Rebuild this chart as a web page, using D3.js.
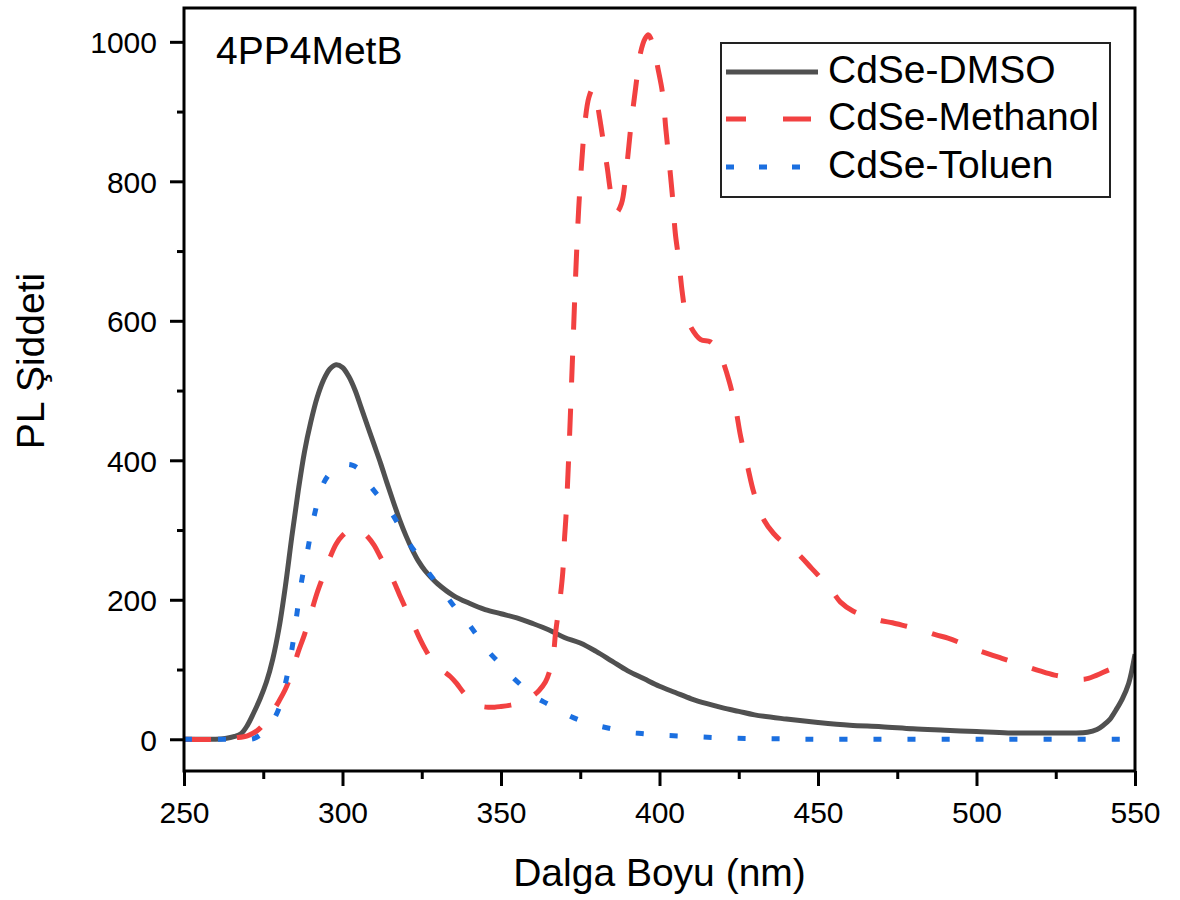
<!DOCTYPE html>
<html>
<head>
<meta charset="utf-8">
<script src="https://cdn.jsdelivr.net/npm/d3@7"></script>
<style>
  body { margin: 0; background: #fff; }
  text { font-family: "Liberation Sans", Arial, sans-serif; fill: #000; }
</style>
</head>
<body>
<script>
// wavelength (nm) / intensity pairs
const dmsoX = [250,255,260,263,266,268,270,272,274,276,278,280,282,284,286,288,290,292,294,296,298,300,302,304,306,308,310,312,314,316,318,320,322,324,326,328,330,335,340,345,350,355,360,365,370,375,380,385,390,395,400,405,410,415,420,425,430,440,450,460,470,480,490,500,510,520,530,535,538,540,542,544,546,548,550]
const dmsoY = [0,0,0,1,4,8,20,38,58,82,115,160,220,290,355,412,455,490,515,531,537,533,520,500,474,448,422,396,368,341,315,292,272,255,242,232,223,206,195,186,180,174,166,157,146,138,126,112,98,87,76,67,58,51,45,40,35,29,24,20,18,15,13,11,9,9,9,10,14,20,28,42,58,80,122]

const methX = [250,262,266,270,273,275,278,280,282,284,286,288,290,292,294,296,298,300,302,304,306,308,310,312,314,316,318,320,322,324,326,328,330,332,334,336,338,340,342,344,346,348,350,353,356,358,360,362,364,365.5,366.5,367.2,368.7,369.5,370,370.5,371.5,372.5,373.5,374.5,375.5,376.5,377.7,379,380.3,381.5,382.5,383.5,385,386.5,388,389.5,391,392.5,394,395.5,396.5,398,399.5,401,402,403,404,405,406,407.2,408.2,410,413,416,418,419.3,422,424,425.6,427.7,429.8,433,436,438.8,442,445,448,452,455,457,461,465.6,470,473.5,478,482.5,487,491,495,499,504,508,512,516,520,524.6,530,534,538,542,546,550]
const methY = [0,0,2,5,12,21,40,55,72,95,125,150,180,210,235,260,280,292,299,301,298,290,278,261,245,228,207,187,168,148,130,115,105,97,90,80,68,58,50,47,46,46,47,49,52,56,62,70,82,100,120,152,204,240,285,320,420,540,660,760,830,885,920,933,912,880,850,820,775,756,768,815,880,935,984,1005,1010,995,962,925,875,830,783,725,690,640,612,590,573,570,560,550,513,475,434,393,353,314,295,283,273,260,245,226,209,197,184,176,170,167,162,157,150,145,138,130,122,116,110,104,98,92,88,86,92,100,106,110]

const tolX = [250,260,268,270,272,274,276,278,280,282,284,285.5,287,289,291,294,297,299,301,303,305,307,309,312,315.5,318,321,324,327,330,333,336,340,343,346,350,353,357,361,365,370,375,380,385,390,395,400,410,420,430,440,450,500,550]
const tolY = [0,0,0,0,1,6,14,26,45,80,128,176,224,271,319,367,386,392,394,393,388,376,362,345,324,305,281,262,240,222,204,186,164,145,126,107,92,75,60,50,37,27,20,15,10,8,6,4,2,1,0.5,0,0,0]

const seriesNames = ["CdSe-DMSO", "CdSe-Methanol", "CdSe-Toluen"]
const seriesColors = ["#505050", "#f24141", "#1b6fe0"]
const seriesDash = [null, "27,26", "8,26"]

const xTicks = [250, 300, 350, 400, 450, 500, 550]
const xMinor = [275, 325, 375, 425, 475, 525]
const yTicks = [0, 200, 400, 600, 800, 1000]
const yMinor = [100, 300, 500, 700, 900]

const W = 1180, H = 900
const plotL = 184, plotR = 1135, plotT = 8, plotB = 771

const svg = d3.select("body").append("svg").attr("width", W).attr("height", H)

const x = d3.scaleLinear().domain([250, 550]).range([plotL, plotR])
const y = d3.scaleLinear().domain([-45.5, 1048.5]).range([plotB, plotT])

// axes
const gx = svg.append("g").attr("transform", `translate(0,${plotB})`)
  .call(d3.axisBottom(x).tickValues(xTicks).tickSize(15).tickFormat(d3.format("d")))
gx.selectAll("text").attr("y", 52).attr("dy", 0).style("font-size", "30px")
svg.append("g").attr("transform", `translate(0,${plotB})`)
  .call(d3.axisBottom(x).tickValues(xMinor).tickSize(8).tickFormat(""))

const gy = svg.append("g").attr("transform", `translate(${plotL},0)`)
  .call(d3.axisLeft(y).tickValues(yTicks).tickSize(14).tickFormat(d3.format("d")))
gy.selectAll("text").attr("x", -27).attr("dy", "0.36em").style("font-size", "30px")
svg.append("g").attr("transform", `translate(${plotL},0)`)
  .call(d3.axisLeft(y).tickValues(yMinor).tickSize(7).tickFormat(""))

svg.selectAll(".domain").remove()
svg.selectAll(".tick line").attr("stroke", "#000").attr("stroke-width", 3)

// data lines
svg.append("clipPath").attr("id", "clip")
  .append("rect").attr("x", plotL).attr("y", plotT).attr("width", plotR - plotL).attr("height", plotB - plotT)

const line = d3.line().x(d => x(d[0])).y(d => y(d[1])).curve(d3.curveCatmullRom.alpha(0.5))
const series = [
  d3.zip(dmsoX, dmsoY),
  d3.zip(methX, methY),
  d3.zip(tolX, tolY)
]
series.forEach((s, i) => {
  svg.append("path")
    .attr("clip-path", "url(#clip)")
    .attr("d", line(s))
    .attr("fill", "none")
    .attr("stroke", seriesColors[i])
    .attr("stroke-width", 5)
    .attr("stroke-dasharray", seriesDash[i])
})

// frame
svg.append("rect")
  .attr("x", plotL).attr("y", plotT)
  .attr("width", plotR - plotL).attr("height", plotB - plotT)
  .attr("fill", "none").attr("stroke", "#000").attr("stroke-width", 3)

// labels
svg.append("text").attr("x", 216).attr("y", 64).style("font-size", "39px").text("4PP4MetB")

svg.append("text")
  .attr("x", (plotL + plotR) / 2).attr("y", 886)
  .attr("text-anchor", "middle").style("font-size", "39px")
  .text("Dalga Boyu (nm)")

svg.append("text")
  .attr("transform", "translate(44,361) rotate(-90)")
  .attr("text-anchor", "middle").style("font-size", "39px")
  .text("PL Şiddeti")

// legend
const lg = svg.append("g")
lg.append("rect").attr("x", 721).attr("y", 43).attr("width", 389).attr("height", 154)
  .attr("fill", "#fff").attr("stroke", "#222").attr("stroke-width", 2)
const rowY = [72, 119, 167]
seriesNames.forEach((name, i) => {
  lg.append("line")
    .attr("x1", 726).attr("x2", 818)
    .attr("y1", rowY[i]).attr("y2", rowY[i])
    .attr("stroke", seriesColors[i]).attr("stroke-width", 5)
    .attr("stroke-dasharray", i == 1 ? "20,37,28,40" : (i == 2 ? "8,25" : null))
  lg.append("text").attr("x", 828).attr("y", rowY[i] + 11)
    .style("font-size", "39px").text(name)
})
</script>
</body>
</html>
